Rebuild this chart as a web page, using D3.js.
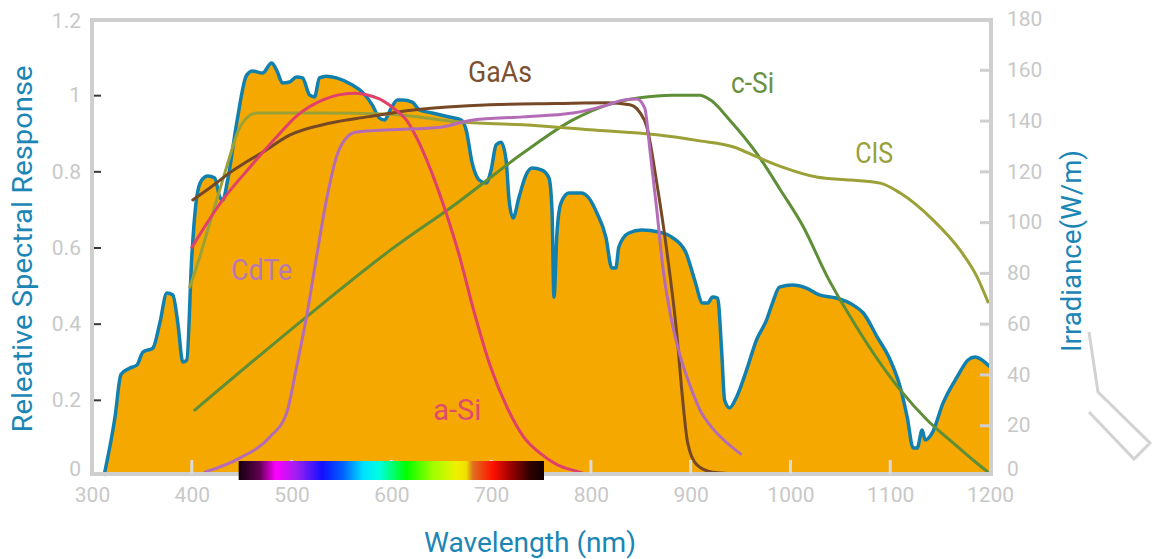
<!DOCTYPE html>
<html>
<head>
<meta charset="utf-8">
<script src="https://cdn.jsdelivr.net/npm/d3@7"></script>
<style>
  body { margin: 0; background: #fff; }
  svg text { font-family: Roboto, "Open Sans", sans-serif; }
</style>
</head>
<body>
<div id="chart"></div>
<script>
// wavelength (nm), irradiance (W/m)
const irradiance = [[312,0],[323,23],[329,40],[338,42.5],[345,43.7],[351,48.8],[361,50.4],[368,60.3],[375,72.1],[381,71.3],[386,60.3],[391,44.9],[395,45.7],[400,86.3],[405,109.9],[410,116.6],[416,118.2],[423,117.4],[428,109.9],[431,108.7],[436,116.6],[445,139],[455,157.9],[461,159.5],[471,158.7],[480,162.7],[485,159.9],[491,154.8],[498,155.2],[505,157.2],[511,156.8],[518,150.1],[523,149.3],[528,156.8],[535,157.5],[545,156.8],[561,154],[571,151.2],[581,146.1],[588,141],[593,140.2],[600,145],[606,148.1],[611,148.1],[621,147.3],[628,144.2],[641,143],[658,141.4],[670,140.2],[675,136.3],[681,123.3],[688,116.6],[695,115.4],[700,120.5],[705,130.4],[710,131.5],[715,124.5],[718,108.7],[722,101.6],[728,109.9],[735,118.6],[741,121.3],[751,120.5],[758,117.4],[761,104.8],[763,70.5],[766,95.7],[770,107.5],[778,111.5],[790,111.5],[798,109.5],[806,103.6],[815,94.1],[821,81.9],[825,81.9],[828,90.2],[838,95.7],[851,96.9],[868,96.1],[881,94.1],[895,88.2],[904,77.2],[912,68.1],[917,68.1],[922,70.5],[927,70.1],[931,49.6],[934,29.9],[939,26.8],[946,31.1],[956,41.7],[966,53.6],[976,61.4],[982,68.1],[989,74.4],[1002,75.2],[1016,74],[1029,71.3],[1046,70.1],[1063,67.3],[1073,64.2],[1087,54.7],[1100,45.7],[1110,35],[1117,23.2],[1123,11],[1127,11],[1132,18.1],[1135,14.2],[1142,16.9],[1153,28.8],[1167,39],[1178,45.7],[1185,46.9],[1192,45.7],[1198,43.7],[1200,43]]

// relative spectral response of each cell type
const gaas = [[401,0.725],[420,0.76],[438,0.796],[455,0.825],[471,0.85],[498,0.895],[539,0.927],[576,0.943],[622,0.961],[656,0.969],[699,0.975],[766,0.978],[816,0.98],[839,0.975],[849,0.955],[856,0.917],[866,0.77],[876,0.593],[886,0.375],[892,0.2],[897,0.087],[906,0.03],[922,0.01],[950,0.005]]
const aSi = [[400,0.60],[431,0.725],[458,0.81],[485,0.89],[505,0.945],[532,0.988],[562,1.005],[588,0.99],[602,0.966],[615,0.935],[625,0.89],[640,0.80],[655,0.69],[668,0.58],[682,0.44],[699,0.29],[716,0.18],[732,0.105],[749,0.06],[766,0.03],[786,0.012],[795,0.005]]
const cdte = [[413,0.01],[448,0.047],[478,0.102],[495,0.165],[505,0.286],[515,0.418],[525,0.575],[535,0.725],[545,0.838],[555,0.888],[565,0.903],[599,0.909],[649,0.916],[682,0.935],[732,0.943],[782,0.953],[816,0.974],[832,0.987],[846,0.99],[854,0.966],[859,0.86],[866,0.70],[872,0.55],[880,0.42],[889,0.32],[899,0.24],[909,0.175],[922,0.125],[936,0.088],[950,0.058]]
const cis = [[398,0.496],[408,0.575],[418,0.664],[428,0.751],[438,0.838],[446,0.903],[455,0.94],[465,0.953],[531,0.953],[599,0.95],[666,0.93],[732,0.922],[799,0.909],[866,0.896],[909,0.88],[943,0.864],[969,0.835],[992,0.811],[1026,0.785],[1060,0.777],[1090,0.769],[1110,0.743],[1143,0.672],[1170,0.593],[1187,0.523],[1198,0.457]]
const cSi = [[403,0.173],[515,0.418],[599,0.593],[666,0.717],[732,0.848],[782,0.935],[816,0.974],[849,0.993],[882,1.0],[909,1.0],[920,0.987],[939,0.935],[966,0.848],[990,0.751],[1013,0.654],[1037,0.523],[1060,0.418],[1083,0.323],[1110,0.226],[1137,0.147],[1163,0.087],[1183,0.042],[1198,0.01]]

const xTicks = [300, 400, 500, 600, 700, 800, 900, 1000, 1100, 1200]
const leftTicks = [0, 0.2, 0.4, 0.6, 0.8, 1, 1.2]
const rightTicks = [0, 20, 40, 60, 80, 100, 120, 140, 160, 180]

// visible-light band under the axis (nm)
const spectrumRange = [447, 753]
const spectrumStops = [
  [0, "#150010"], [0.068, "#600050"], [0.122, "#ff00ff"], [0.188, "#a020f0"],
  [0.275, "#1010ff"], [0.341, "#0060ff"], [0.407, "#00e0ff"], [0.461, "#00ffe0"],
  [0.549, "#00ff00"], [0.636, "#a0ff00"], [0.713, "#f0f000"], [0.745, "#f0e000"],
  [0.767, "#e07020"], [0.833, "#ff1000"], [0.898, "#900000"], [0.953, "#300000"],
  [1, "#100005"]
]

const W = 1152, H = 559
const axisGray = "#cfcfcf"
const tickText = "#c8c8c8"
const titleBlue = "#1b86b5"

const svg = d3.select("#chart").append("svg")
    .attr("width", W)
    .attr("height", H)

const x = d3.scaleLinear().domain([300, 1200]).range([92, 990])
const y = d3.scaleLinear().domain([0, 1.2]).range([476, 19])
const yR = d3.scaleLinear().domain([0, 180]).range([476, 19])

// irradiance area
const area = d3.area()
    .curve(d3.curveMonotoneX)
    .x(d => x(d[0]))
    .y0(yR(0))
    .y1(d => yR(d[1]))
const outline = d3.line()
    .curve(d3.curveMonotoneX)
    .x(d => x(d[0]))
    .y(d => yR(d[1]))

svg.append("path")
    .attr("d", area(irradiance))
    .attr("fill", "#f5a900")
svg.append("path")
    .attr("d", outline(irradiance))
    .attr("fill", "none")
    .attr("stroke", "#1280ae")
    .attr("stroke-width", 3.5)
    .attr("stroke-linejoin", "round")

// cell response lines
const line = d3.line()
    .curve(d3.curveMonotoneX)
    .x(d => x(d[0]))
    .y(d => y(d[1]))

const cells = [
  {data: cSi, color: "#5e8e36"},
  {data: cis, color: "#9ca137"},
  {data: gaas, color: "#774826"},
  {data: aSi, color: "#e0406c"},
  {data: cdte, color: "#b46cb6"}
]
svg.append("g").selectAll("path")
    .data(cells)
    .join("path")
    .attr("d", d => line(d.data))
    .attr("fill", "none")
    .attr("stroke", d => d.color)
    .attr("stroke-width", 3)
    .attr("stroke-linecap", "round")

// series labels
const labels = [
  {text: "GaAs", at: [709, 1.035], len: 64, color: "#7d5030"},
  {text: "c-Si", at: [962, 1.006], len: 43, color: "#6a9040"},
  {text: "CIS", at: [1084, 0.822], len: 38, color: "#9aa038"},
  {text: "CdTe", at: [470, 0.515], len: 61, color: "#b878b8"},
  {text: "a-Si", at: [666, 0.147], len: 48, color: "#e04a6e"}
]
svg.append("g").selectAll("text")
    .data(labels)
    .join("text")
    .attr("x", d => x(d.at[0]) - d.len / 2)
    .attr("y", d => y(d.at[1]))
    .attr("textLength", d => d.len)
    .attr("lengthAdjust", "spacingAndGlyphs")
    .attr("font-size", 29)
    .attr("fill", d => d.color)
    .text(d => d.text)

// frame
svg.append("rect")
    .attr("x", 92).attr("y", 20)
    .attr("width", 899).attr("height", 454)
    .attr("fill", "none")
    .attr("stroke", axisGray)
    .attr("stroke-width", 4)

// bottom axis
const xAxis = svg.append("g")
    .attr("transform", `translate(0,${474})`)
    .call(d3.axisBottom(x).tickValues(xTicks).tickSize(0).tickPadding(22).tickFormat(d => d))
xAxis.select(".domain").remove()
xAxis.selectAll("text")
    .attr("fill", tickText)
    .attr("font-size", 21)
    .attr("dy", "0.3em")
svg.append("g").selectAll("line")
    .data(xTicks.slice(1, -1))
    .join("line")
    .attr("x1", d => x(d)).attr("x2", d => x(d))
    .attr("y1", 460).attr("y2", 474)
    .attr("stroke", "#dadada")
    .attr("stroke-width", 3)

// left axis
const yAxis = svg.append("g")
    .attr("transform", "translate(92,0)")
    .call(d3.axisLeft(y).tickValues(leftTicks).tickSize(-9).tickPadding(11).tickFormat(d => d))
yAxis.select(".domain").remove()
yAxis.selectAll("line")
    .attr("stroke", "#3a3a3a")
    .attr("stroke-width", 2)
    .attr("x1", 2)
    .style("display", d => (d === 0 || d === 1.2) ? "none" : null)
yAxis.selectAll("text")
    .attr("fill", tickText)
    .attr("font-size", 21)
    .attr("y", d => d === 0 ? -7 : (d === 1.2 ? 2 : 0))

// right axis
const yAxisR = svg.append("g")
    .attr("transform", "translate(991,0)")
    .call(d3.axisRight(yR).tickValues(rightTicks).tickSize(-11).tickPadding(16).tickFormat(d => d))
yAxisR.select(".domain").remove()
yAxisR.selectAll("line")
    .attr("stroke", axisGray)
    .attr("stroke-width", 3)
    .style("display", d => (d === 0 || d === 180) ? "none" : null)
yAxisR.selectAll("text")
    .attr("fill", tickText)
    .attr("font-size", 21)
    .attr("y", d => d === 0 ? -7 : 0)

// visible spectrum strip
const grad = svg.append("defs").append("linearGradient")
    .attr("id", "spectrum")
grad.selectAll("stop")
    .data(spectrumStops)
    .join("stop")
    .attr("offset", d => d[0])
    .attr("stop-color", d => d[1])
svg.append("rect")
    .attr("x", x(spectrumRange[0]))
    .attr("y", 461)
    .attr("width", x(spectrumRange[1]) - x(spectrumRange[0]))
    .attr("height", 19)
    .attr("fill", "url(#spectrum)")

// axis titles
svg.append("text")
    .attr("transform", "translate(32,249) rotate(-90)")
    .attr("text-anchor", "middle")
    .attr("font-size", 28)
    .attr("textLength", 367)
    .attr("lengthAdjust", "spacingAndGlyphs")
    .attr("fill", titleBlue)
    .text("Releative Spectral Response")

svg.append("text")
    .attr("transform", "translate(1081,251) rotate(-90)")
    .attr("text-anchor", "middle")
    .attr("font-size", 28)
    .attr("textLength", 202)
    .attr("lengthAdjust", "spacingAndGlyphs")
    .attr("fill", titleBlue)
    .text("Irradiance(W/m)")

svg.append("text")
    .attr("x", 530)
    .attr("y", 552)
    .attr("text-anchor", "middle")
    .attr("font-size", 28)
    .attr("textLength", 212)
    .attr("lengthAdjust", "spacingAndGlyphs")
    .attr("fill", titleBlue)
    .text("Wavelength (nm)")

// stray grey bracket to the right of the irradiance title
svg.append("path")
    .attr("d", "M1089,332 L1098,392 L1150,443 L1134,459 L1089,412")
    .attr("fill", "none")
    .attr("stroke", "#d2d2d2")
    .attr("stroke-width", 3)
</script>
</body>
</html>
